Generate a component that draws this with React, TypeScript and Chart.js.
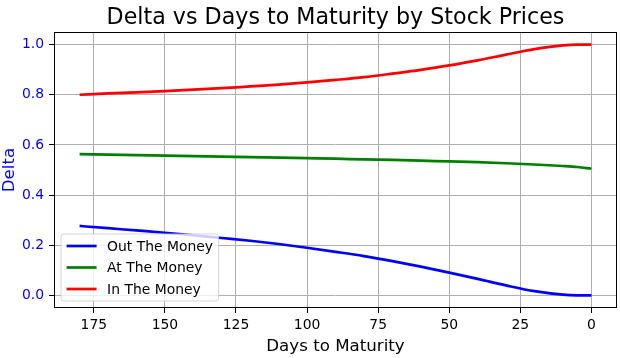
import React, { useEffect, useRef } from 'react';
import { Chart, registerables } from 'chart.js';

Chart.register(...registerables);

const days = [180, 170, 160, 150, 140, 130, 120, 110, 100, 90, 80, 70, 60, 50, 40, 30, 20, 10, 5, 0];
const outTheMoney = [0.277, 0.268, 0.259, 0.25, 0.24, 0.229, 0.218, 0.205, 0.19, 0.174, 0.157, 0.137, 0.115, 0.091, 0.066, 0.04, 0.017, 0.003, 0.0003, 0];
const atTheMoney = [0.563, 0.561, 0.559, 0.557, 0.555, 0.553, 0.551, 0.549, 0.547, 0.545, 0.542, 0.54, 0.537, 0.534, 0.531, 0.527, 0.522, 0.516, 0.512, 0.505];
const inTheMoney = [0.8, 0.805, 0.809, 0.814, 0.82, 0.826, 0.833, 0.84, 0.849, 0.859, 0.87, 0.884, 0.899, 0.917, 0.937, 0.96, 0.982, 0.997, 1.0, 1.0];
const seriesLabels = ['Out The Money', 'At The Money', 'In The Money'];
const seriesColors = ['#0000ff', '#008000', '#ff0000'];
const xTicks = [175, 150, 125, 100, 75, 50, 25, 0];
const yTicks = [0, 0.2, 0.4, 0.6, 0.8, 1.0];
const chartTitle = 'Delta vs Days to Maturity by Stock Prices';
const xTitle = 'Days to Maturity';
const yTitle = 'Delta';

const FONT = '"DejaVu Sans", sans-serif';

const framePlugin = {
  id: 'frame',
  afterDatasetsDraw(chart: any) {
    const { ctx, chartArea: a } = chart;
    ctx.save();
    ctx.strokeStyle = '#000';
    ctx.lineWidth = 1;
    ctx.strokeRect(Math.round(a.left) + 0.5, Math.round(a.top) + 0.5, Math.round(a.right - a.left) - 1, Math.round(a.bottom - a.top) - 1);
    ctx.restore();
  },
};

const textPlugin = {
  id: 'mplTexts',
  afterDraw(chart: any) {
    const { ctx, chartArea: a } = chart;
    const cx = (a.left + a.right) / 2;
    const cy = (a.top + a.bottom) / 2;
    ctx.save();
    ctx.textBaseline = 'alphabetic';
    ctx.textAlign = 'center';
    ctx.fillStyle = '#000';
    ctx.font = `22.2px ${FONT}`;
    ctx.fillText(chartTitle, cx, a.top - 8.5);
    ctx.font = `16.67px ${FONT}`;
    ctx.fillText(xTitle, cx, a.bottom + 42.7);
    ctx.translate(14, cy);
    ctx.rotate(-Math.PI / 2);
    ctx.fillStyle = '#0000ff';
    ctx.fillText(yTitle, 0, 0);
    ctx.restore();
  },
};

const legendPlugin = {
  id: 'mplLegend',
  afterDraw(chart: any) {
    const { ctx, chartArea: a } = chart;
    const fs = 13.9;
    ctx.save();
    ctx.font = `${fs}px ${FONT}`;
    const labels = chart.data.datasets.map((d: any) => d.label);
    const maxW = Math.max(...labels.map((l: string) => ctx.measureText(l).width));
    const pad = 5.6;
    const handle = 30;
    const gap = 10.5;
    const rowH = 21.5;
    const w = pad + handle + gap + maxW + pad;
    const h = rowH * labels.length + 2.5;
    const x = a.left + 7;
    const y = a.bottom - 7 - h;
    const r = 3;
    ctx.beginPath();
    ctx.moveTo(x + r, y);
    ctx.lineTo(x + w - r, y);
    ctx.quadraticCurveTo(x + w, y, x + w, y + r);
    ctx.lineTo(x + w, y + h - r);
    ctx.quadraticCurveTo(x + w, y + h, x + w - r, y + h);
    ctx.lineTo(x + r, y + h);
    ctx.quadraticCurveTo(x, y + h, x, y + h - r);
    ctx.lineTo(x, y + r);
    ctx.quadraticCurveTo(x, y, x + r, y);
    ctx.closePath();
    ctx.fillStyle = 'rgba(255,255,255,0.8)';
    ctx.fill();
    ctx.strokeStyle = 'rgba(204,204,204,0.8)';
    ctx.lineWidth = 1;
    ctx.stroke();
    chart.data.datasets.forEach((d: any, i: number) => {
      const cy = y + 12 + i * rowH;
      ctx.beginPath();
      ctx.moveTo(x + pad, cy);
      ctx.lineTo(x + pad + handle, cy);
      ctx.strokeStyle = d.borderColor;
      ctx.lineWidth = 2.7;
      ctx.stroke();
      ctx.fillStyle = '#000';
      ctx.textBaseline = 'middle';
      ctx.textAlign = 'left';
      ctx.fillText(d.label, x + pad + handle + gap, cy + 1);
    });
    ctx.restore();
  },
};

export default function App() {
  const ref = useRef<HTMLCanvasElement | null>(null);
  useEffect(() => {
    document.body.style.margin = '0';
    if (!ref.current) return;
    const series = [outTheMoney, atTheMoney, inTheMoney];
    const chart = new Chart(ref.current, {
      type: 'line',
      data: {
        datasets: series.map((vals, i) => ({
          label: seriesLabels[i],
          data: days.map((d, j) => ({ x: d, y: vals[j] })),
          borderColor: seriesColors[i],
          backgroundColor: seriesColors[i],
          borderWidth: 2.7,
          pointRadius: 0,
          cubicInterpolationMode: 'monotone' as const,
          fill: false,
        })),
      },
      options: {
        responsive: false,
        animation: false,
        devicePixelRatio: 1,
        layout: { padding: { left: 0, right: 3, top: 32, bottom: 0 } },
        plugins: {
          legend: { display: false },
          tooltip: { enabled: false },
          title: { display: false },
        },
        scales: {
          x: {
            type: 'linear',
            reverse: true,
            min: -9,
            max: 189,
            afterBuildTicks: (s: any) => { s.ticks = xTicks.map((v) => ({ value: v })); },
            afterFit: (s: any) => { s.height = 50; },
            grid: { color: '#b0b0b0', lineWidth: 1, tickColor: '#000', tickLength: 5, drawTicks: true },
            border: { display: false },
            ticks: {
              color: '#000',
              font: { family: FONT, size: 13.9 },
              padding: 4,
              maxRotation: 0,
              autoSkip: false,
              callback: (v: any) => String(v),
            },
          },
          y: {
            type: 'linear',
            min: -0.05,
            max: 1.05,
            afterBuildTicks: (s: any) => { s.ticks = yTicks.map((v) => ({ value: v })); },
            afterFit: (s: any) => { s.width = 54; },
            grid: { color: '#b0b0b0', lineWidth: 1, tickColor: '#000', tickLength: 5, drawTicks: true },
            border: { display: false },
            ticks: {
              color: '#0000ff',
              font: { family: FONT, size: 13.9 },
              padding: 5,
              autoSkip: false,
              callback: (v: any) => Number(v).toFixed(1),
            },
          },
        },
      },
      plugins: [framePlugin, textPlugin, legendPlugin],
    });
    return () => chart.destroy();
  }, []);
  return (
    <div style={{ width: 620, height: 358 }}>
      <canvas ref={ref} width={620} height={358} />
    </div>
  );
}
